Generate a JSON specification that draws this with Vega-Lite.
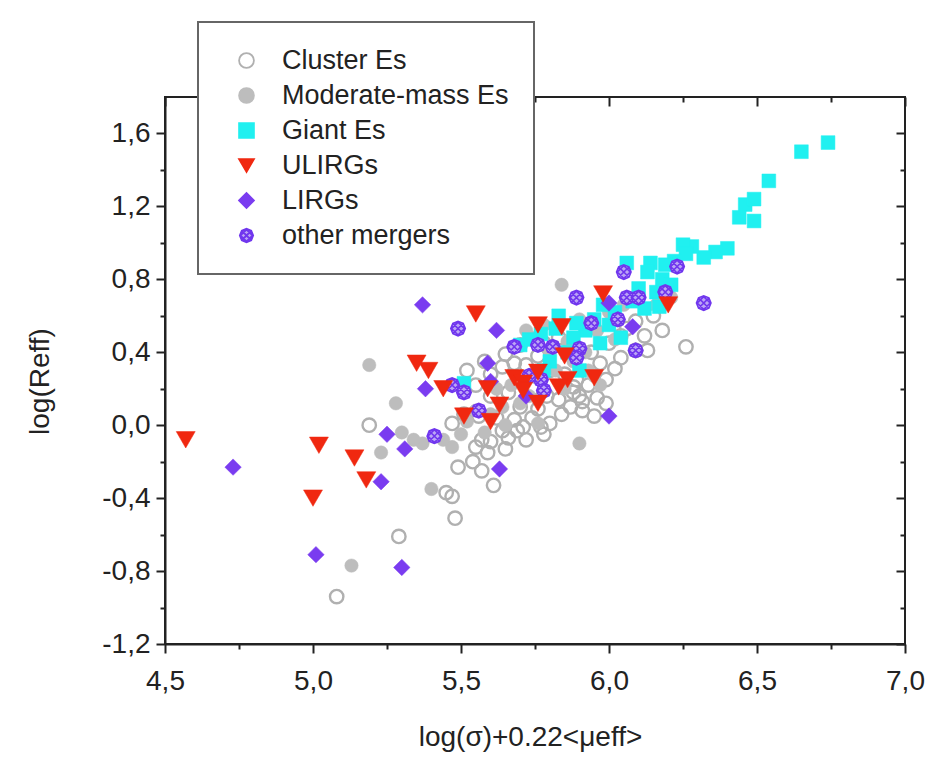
{
"$schema": "https://vega.github.io/schema/vega-lite/v6.json",
"width": 740, "height": 547,
"autosize": {"type": "none"},
"padding": {"left": 165, "top": 97, "right": 33, "bottom": 121},
"background": "white",
"config": {
  "view": {"stroke": "#222", "strokeWidth": 2},
  "font": "Liberation Sans",
  "axis": {"labelFont": "Liberation Sans", "titleFont": "Liberation Sans", "labelColor": "#222", "titleColor": "#222", "tickColor": "#222", "domainColor": "#222", "domainWidth": 2, "tickWidth": 2, "grid": false, "labelFontSize": 28, "titleFontSize": 28, "titleFontWeight": "normal", "labelFlush": false, "labelOverlap": false},
  "legend": {"padding": 25, "strokeColor": "#666", "strokeWidth": 2, "fillColor": "white", "labelFont": "Liberation Sans", "labelFontSize": 27, "labelColor": "#222", "symbolSize": 220, "symbolStrokeWidth": 1.8, "rowPadding": 7, "labelOffset": 22, "symbolOffset": 10, "labelLimit": 400}
},
"data": {"values": [
{"x":5.08,"y":-0.94,"t":"Cluster Es"},{"x":5.29,"y":-0.61,"t":"Cluster Es"},{"x":5.48,"y":-0.51,"t":"Cluster Es"},{"x":5.45,"y":-0.37,"t":"Cluster Es"},{"x":5.47,"y":-0.39,"t":"Cluster Es"},{"x":5.61,"y":-0.33,"t":"Cluster Es"},{"x":5.49,"y":-0.23,"t":"Cluster Es"},{"x":5.54,"y":-0.20,"t":"Cluster Es"},{"x":5.57,"y":-0.25,"t":"Cluster Es"},{"x":5.19,"y":0.00,"t":"Cluster Es"},{"x":5.47,"y":0.01,"t":"Cluster Es"},{"x":6.26,"y":0.43,"t":"Cluster Es"},{"x":6.18,"y":0.52,"t":"Cluster Es"},
{"x":5.55,"y":-0.12,"t":"Cluster Es"},{"x":5.59,"y":-0.15,"t":"Cluster Es"},{"x":5.60,"y":-0.09,"t":"Cluster Es"},{"x":5.65,"y":-0.13,"t":"Cluster Es"},{"x":5.66,"y":-0.07,"t":"Cluster Es"},{"x":5.72,"y":-0.08,"t":"Cluster Es"},{"x":5.71,"y":-0.01,"t":"Cluster Es"},{"x":5.78,"y":-0.05,"t":"Cluster Es"},{"x":5.80,"y":0.01,"t":"Cluster Es"},{"x":5.64,"y":-0.03,"t":"Cluster Es"},{"x":5.57,"y":-0.08,"t":"Cluster Es"},{"x":5.69,"y":-0.03,"t":"Cluster Es"},{"x":5.77,"y":-0.01,"t":"Cluster Es"},
{"x":5.51,"y":0.06,"t":"Cluster Es"},{"x":5.56,"y":0.05,"t":"Cluster Es"},{"x":5.62,"y":0.04,"t":"Cluster Es"},{"x":5.68,"y":0.03,"t":"Cluster Es"},{"x":5.74,"y":0.04,"t":"Cluster Es"},{"x":5.76,"y":0.09,"t":"Cluster Es"},{"x":5.70,"y":0.10,"t":"Cluster Es"},{"x":5.84,"y":0.06,"t":"Cluster Es"},{"x":5.87,"y":0.10,"t":"Cluster Es"},{"x":5.91,"y":0.08,"t":"Cluster Es"},{"x":5.95,"y":0.05,"t":"Cluster Es"},{"x":5.91,"y":0.13,"t":"Cluster Es"},{"x":5.93,"y":0.22,"t":"Cluster Es"},{"x":5.88,"y":0.18,"t":"Cluster Es"},{"x":5.83,"y":0.14,"t":"Cluster Es"},{"x":5.79,"y":0.16,"t":"Cluster Es"},{"x":5.74,"y":0.20,"t":"Cluster Es"},{"x":5.66,"y":0.18,"t":"Cluster Es"},{"x":5.60,"y":0.16,"t":"Cluster Es"},{"x":5.55,"y":0.22,"t":"Cluster Es"},{"x":5.88,"y":0.21,"t":"Cluster Es"},{"x":5.90,"y":0.16,"t":"Cluster Es"},
{"x":5.64,"y":0.32,"t":"Cluster Es"},{"x":5.65,"y":0.39,"t":"Cluster Es"},{"x":5.68,"y":0.34,"t":"Cluster Es"},{"x":5.72,"y":0.33,"t":"Cluster Es"},{"x":5.76,"y":0.38,"t":"Cluster Es"},{"x":5.80,"y":0.30,"t":"Cluster Es"},{"x":5.85,"y":0.28,"t":"Cluster Es"},{"x":5.89,"y":0.25,"t":"Cluster Es"},{"x":5.99,"y":0.25,"t":"Cluster Es"},{"x":6.02,"y":0.31,"t":"Cluster Es"},{"x":6.04,"y":0.37,"t":"Cluster Es"},{"x":6.09,"y":0.41,"t":"Cluster Es"},{"x":6.13,"y":0.41,"t":"Cluster Es"},{"x":6.12,"y":0.49,"t":"Cluster Es"},{"x":6.04,"y":0.49,"t":"Cluster Es"},{"x":5.97,"y":0.34,"t":"Cluster Es"},{"x":5.94,"y":0.40,"t":"Cluster Es"},{"x":6.00,"y":0.45,"t":"Cluster Es"},{"x":6.06,"y":0.53,"t":"Cluster Es"},{"x":6.09,"y":0.57,"t":"Cluster Es"},{"x":6.15,"y":0.60,"t":"Cluster Es"},{"x":5.87,"y":0.42,"t":"Cluster Es"},{"x":5.83,"y":0.48,"t":"Cluster Es"},{"x":5.78,"y":0.45,"t":"Cluster Es"},{"x":5.60,"y":0.28,"t":"Cluster Es"},{"x":5.70,"y":0.44,"t":"Cluster Es"},{"x":5.58,"y":0.35,"t":"Cluster Es"},{"x":5.52,"y":0.30,"t":"Cluster Es"},{"x":5.96,"y":0.15,"t":"Cluster Es"},{"x":5.99,"y":0.12,"t":"Cluster Es"},
{"x":5.19,"y":0.33,"t":"Moderate-mass Es"},{"x":5.28,"y":0.12,"t":"Moderate-mass Es"},{"x":5.30,"y":-0.04,"t":"Moderate-mass Es"},{"x":5.23,"y":-0.15,"t":"Moderate-mass Es"},{"x":5.37,"y":-0.10,"t":"Moderate-mass Es"},{"x":5.40,"y":-0.35,"t":"Moderate-mass Es"},{"x":5.13,"y":-0.77,"t":"Moderate-mass Es"},{"x":5.47,"y":-0.12,"t":"Moderate-mass Es"},{"x":5.58,"y":-0.04,"t":"Moderate-mass Es"},{"x":5.90,"y":-0.10,"t":"Moderate-mass Es"},{"x":5.84,"y":0.77,"t":"Moderate-mass Es"},{"x":5.95,"y":0.27,"t":"Moderate-mass Es"},{"x":5.97,"y":0.22,"t":"Moderate-mass Es"},{"x":5.76,"y":0.01,"t":"Moderate-mass Es"},{"x":5.60,"y":0.06,"t":"Moderate-mass Es"},{"x":5.64,"y":0.10,"t":"Moderate-mass Es"},{"x":5.70,"y":0.12,"t":"Moderate-mass Es"},{"x":5.73,"y":0.16,"t":"Moderate-mass Es"},{"x":5.67,"y":0.22,"t":"Moderate-mass Es"},{"x":5.62,"y":0.20,"t":"Moderate-mass Es"},{"x":5.76,"y":0.26,"t":"Moderate-mass Es"},{"x":5.82,"y":0.30,"t":"Moderate-mass Es"},{"x":5.80,"y":0.40,"t":"Moderate-mass Es"},{"x":5.74,"y":0.48,"t":"Moderate-mass Es"},{"x":5.72,"y":0.52,"t":"Moderate-mass Es"},{"x":5.78,"y":0.55,"t":"Moderate-mass Es"},{"x":5.86,"y":0.46,"t":"Moderate-mass Es"},{"x":5.90,"y":0.58,"t":"Moderate-mass Es"},{"x":5.96,"y":0.52,"t":"Moderate-mass Es"},{"x":6.00,"y":0.62,"t":"Moderate-mass Es"},{"x":6.05,"y":0.66,"t":"Moderate-mass Es"},{"x":6.10,"y":0.72,"t":"Moderate-mass Es"},{"x":6.16,"y":0.66,"t":"Moderate-mass Es"},{"x":6.21,"y":0.70,"t":"Moderate-mass Es"},{"x":6.02,"y":0.47,"t":"Moderate-mass Es"},{"x":5.92,"y":0.40,"t":"Moderate-mass Es"},{"x":5.88,"y":0.35,"t":"Moderate-mass Es"},{"x":5.52,"y":0.02,"t":"Moderate-mass Es"},{"x":5.55,"y":0.08,"t":"Moderate-mass Es"},{"x":5.50,"y":-0.05,"t":"Moderate-mass Es"},{"x":5.65,"y":0.00,"t":"Moderate-mass Es"},{"x":5.34,"y":-0.08,"t":"Moderate-mass Es"},{"x":5.44,"y":-0.08,"t":"Moderate-mass Es"},{"x":5.85,"y":0.20,"t":"Moderate-mass Es"},{"x":5.93,"y":0.30,"t":"Moderate-mass Es"},
{"x":6.74,"y":1.55,"t":"Giant Es"},{"x":6.65,"y":1.50,"t":"Giant Es"},{"x":6.54,"y":1.34,"t":"Giant Es"},{"x":6.46,"y":1.21,"t":"Giant Es"},{"x":6.49,"y":1.24,"t":"Giant Es"},{"x":6.44,"y":1.14,"t":"Giant Es"},{"x":6.49,"y":1.12,"t":"Giant Es"},{"x":6.40,"y":0.97,"t":"Giant Es"},{"x":6.36,"y":0.95,"t":"Giant Es"},{"x":6.32,"y":0.92,"t":"Giant Es"},{"x":6.28,"y":0.98,"t":"Giant Es"},{"x":6.25,"y":0.99,"t":"Giant Es"},{"x":6.26,"y":0.94,"t":"Giant Es"},{"x":6.22,"y":0.90,"t":"Giant Es"},{"x":6.19,"y":0.88,"t":"Giant Es"},{"x":6.14,"y":0.89,"t":"Giant Es"},{"x":6.13,"y":0.84,"t":"Giant Es"},{"x":6.06,"y":0.89,"t":"Giant Es"},{"x":6.18,"y":0.80,"t":"Giant Es"},{"x":6.21,"y":0.77,"t":"Giant Es"},{"x":6.16,"y":0.73,"t":"Giant Es"},{"x":6.10,"y":0.75,"t":"Giant Es"},{"x":6.08,"y":0.68,"t":"Giant Es"},{"x":6.12,"y":0.64,"t":"Giant Es"},{"x":6.17,"y":0.65,"t":"Giant Es"},{"x":6.02,"y":0.62,"t":"Giant Es"},{"x":5.98,"y":0.66,"t":"Giant Es"},{"x":5.95,"y":0.58,"t":"Giant Es"},{"x":5.92,"y":0.52,"t":"Giant Es"},{"x":6.00,"y":0.55,"t":"Giant Es"},{"x":6.04,"y":0.48,"t":"Giant Es"},{"x":5.88,"y":0.48,"t":"Giant Es"},{"x":5.82,"y":0.53,"t":"Giant Es"},{"x":5.86,"y":0.40,"t":"Giant Es"},{"x":5.80,"y":0.35,"t":"Giant Es"},{"x":5.90,"y":0.30,"t":"Giant Es"},{"x":5.77,"y":0.50,"t":"Giant Es"},{"x":5.73,"y":0.47,"t":"Giant Es"},{"x":5.70,"y":0.44,"t":"Giant Es"},{"x":5.51,"y":0.23,"t":"Giant Es"},{"x":5.83,"y":0.60,"t":"Giant Es"},{"x":5.89,"y":0.56,"t":"Giant Es"},{"x":5.97,"y":0.45,"t":"Giant Es"},{"x":5.78,"y":0.30,"t":"Giant Es"},
{"x":5.37,"y":0.66,"t":"LIRGs"},{"x":5.62,"y":0.52,"t":"LIRGs"},{"x":5.59,"y":0.34,"t":"LIRGs"},{"x":5.38,"y":0.20,"t":"LIRGs"},{"x":5.60,"y":0.24,"t":"LIRGs"},{"x":5.25,"y":-0.05,"t":"LIRGs"},{"x":5.31,"y":-0.13,"t":"LIRGs"},{"x":4.73,"y":-0.23,"t":"LIRGs"},{"x":5.23,"y":-0.31,"t":"LIRGs"},{"x":5.63,"y":-0.24,"t":"LIRGs"},{"x":5.01,"y":-0.71,"t":"LIRGs"},{"x":5.30,"y":-0.78,"t":"LIRGs"},{"x":6.00,"y":0.67,"t":"LIRGs"},{"x":6.08,"y":0.54,"t":"LIRGs"},{"x":6.00,"y":0.05,"t":"LIRGs"},{"x":5.72,"y":0.16,"t":"LIRGs"},
{"x":5.49,"y":0.53,"t":"other mergers"},{"x":5.47,"y":0.22,"t":"other mergers"},{"x":5.51,"y":0.18,"t":"other mergers"},{"x":5.56,"y":0.08,"t":"other mergers"},{"x":5.41,"y":-0.06,"t":"other mergers"},{"x":6.05,"y":0.84,"t":"other mergers"},{"x":6.23,"y":0.87,"t":"other mergers"},{"x":5.89,"y":0.70,"t":"other mergers"},{"x":6.06,"y":0.70,"t":"other mergers"},{"x":6.10,"y":0.70,"t":"other mergers"},{"x":6.19,"y":0.73,"t":"other mergers"},{"x":6.32,"y":0.67,"t":"other mergers"},{"x":5.94,"y":0.56,"t":"other mergers"},{"x":6.03,"y":0.58,"t":"other mergers"},{"x":5.68,"y":0.43,"t":"other mergers"},{"x":5.76,"y":0.44,"t":"other mergers"},{"x":5.81,"y":0.43,"t":"other mergers"},{"x":5.90,"y":0.42,"t":"other mergers"},{"x":5.89,"y":0.37,"t":"other mergers"},{"x":6.09,"y":0.41,"t":"other mergers"},{"x":5.77,"y":0.25,"t":"other mergers"},{"x":5.78,"y":0.19,"t":"other mergers"},{"x":5.73,"y":0.27,"t":"other mergers"},
{"x":4.57,"y":-0.08,"t":"ULIRGs"},{"x":5.02,"y":-0.11,"t":"ULIRGs"},{"x":5.14,"y":-0.18,"t":"ULIRGs"},{"x":5.18,"y":-0.30,"t":"ULIRGs"},{"x":5.00,"y":-0.40,"t":"ULIRGs"},{"x":5.35,"y":0.34,"t":"ULIRGs"},{"x":5.39,"y":0.30,"t":"ULIRGs"},{"x":5.44,"y":0.20,"t":"ULIRGs"},{"x":5.55,"y":0.61,"t":"ULIRGs"},{"x":5.59,"y":0.20,"t":"ULIRGs"},{"x":5.51,"y":0.05,"t":"ULIRGs"},{"x":5.60,"y":0.02,"t":"ULIRGs"},{"x":5.63,"y":0.11,"t":"ULIRGs"},{"x":5.76,"y":0.55,"t":"ULIRGs"},{"x":5.84,"y":0.54,"t":"ULIRGs"},{"x":5.98,"y":0.72,"t":"ULIRGs"},{"x":6.20,"y":0.66,"t":"ULIRGs"},{"x":5.85,"y":0.38,"t":"ULIRGs"},{"x":5.68,"y":0.26,"t":"ULIRGs"},{"x":5.71,"y":0.23,"t":"ULIRGs"},{"x":5.76,"y":0.29,"t":"ULIRGs"},{"x":5.86,"y":0.25,"t":"ULIRGs"},{"x":5.83,"y":0.21,"t":"ULIRGs"},{"x":5.95,"y":0.26,"t":"ULIRGs"},{"x":5.76,"y":0.12,"t":"ULIRGs"},{"x":5.71,"y":0.19,"t":"ULIRGs"}
]},
"layer": [
  {
    "mark": {"type": "point", "opacity": 1, "filled": true},
    "encoding": {
      "x": {"field": "x", "type": "quantitative", "scale": {"domain": [4.5, 7], "nice": false, "zero": false},
        "axis": {"orient": "bottom", "values": [4.5, 4.75, 5, 5.25, 5.5, 5.75, 6, 6.25, 6.5, 6.75, 7], "tickSize": 9, "labelPadding": 14,
          "labelExpr": "abs(datum.value*2-round(datum.value*2))>0.01 ? '' : replace(format(datum.value,'.1f'),'.',',')",
          "tickDash": {"condition": {"test": "abs(datum.value*2-round(datum.value*2))>0.01", "value": [5, 20]}, "value": []},
          "title": "log(σ)+0.22<μeff>", "titleX": 365, "titleY": 93, "titleBaseline": "middle"}},
      "y": {"field": "y", "type": "quantitative", "scale": {"domain": [-1.2, 1.8], "nice": false, "zero": false},
        "axis": {"orient": "left", "values": [-1.2, -1.0, -0.8, -0.6, -0.4, -0.2, 0, 0.2, 0.4, 0.6, 0.8, 1.0, 1.2, 1.4, 1.6], "tickSize": 9, "labelPadding": 6,
          "labelExpr": "abs(datum.value/0.4-round(datum.value/0.4))>0.01 ? '' : replace(replace(format(datum.value,'.1f'),'.',','),'\u2212','-')",
          "tickDash": {"condition": {"test": "abs(datum.value/0.4-round(datum.value/0.4))>0.01", "value": [5, 20]}, "value": []},
          "title": "log(Reff)", "titleX": -125, "titleY": 284, "titleBaseline": "middle"}},
      "fill": {"field": "t", "type": "nominal", "title": null,
        "scale": {"domain": ["Cluster Es", "Moderate-mass Es", "Giant Es", "ULIRGs", "LIRGs", "other mergers"], "range": ["transparent", "#bdbdbd", "#20f0f0", "#f02810", "#7a3cf0", "#bca6f5"]},
        "legend": {"orient": "none", "legendX": 33, "legendY": -75}},
      "stroke": {"field": "t", "type": "nominal", "title": null,
        "scale": {"domain": ["Cluster Es", "Moderate-mass Es", "Giant Es", "ULIRGs", "LIRGs", "other mergers"], "range": ["#b0b0b0", "#bdbdbd", "#20f0f0", "#f02810", "#7a3cf0", "#7036ee"]},
        "legend": {"orient": "none", "legendX": 33, "legendY": -75}},
      "shape": {"field": "t", "type": "nominal", "title": null,
        "scale": {"domain": ["Cluster Es", "Moderate-mass Es", "Giant Es", "ULIRGs", "LIRGs", "other mergers"], "range": ["circle", "circle", "square", "triangle-down", "diamond", "M0.9,0L0.64,0.64L0,0.9L-0.64,0.64L-0.9,0L-0.64,-0.64L0,-0.9L0.64,-0.64Z M-0.64,0.64L0.64,-0.64 M0.895,-0.095L-0.095,0.895 M0.095,-0.895L-0.895,0.095 M-0.64,-0.64L0.64,0.64 M0.895,0.095L-0.095,-0.895 M0.095,0.895L-0.895,-0.095"]},
        "legend": {"orient": "none", "legendX": 33, "legendY": -75}},
      "size": {"condition": [{"test": "datum.t==='ULIRGs'", "value": 360}, {"test": "datum.t==='LIRGs'", "value": 270}, {"test": "datum.t==='other mergers'", "value": 260}, {"test": "datum.t==='Giant Es'", "value": 190}], "value": 180},
      "strokeWidth": {"condition": [{"test": "datum.t==='Cluster Es'", "value": 2.4}, {"test": "datum.t==='other mergers'", "value": 1.6}], "value": 0.5}
    }
  },
  {
    "mark": {"type": "point", "opacity": 0},
    "encoding": {
      "x": {"field": "x", "type": "quantitative",
        "axis": {"orient": "top", "values": [4.5, 4.75, 5, 5.25, 5.5, 5.75, 6, 6.25, 6.5, 6.75, 7], "tickSize": -9, "labels": false, "domain": false, "title": null,
          "tickDash": {"condition": {"test": "abs(datum.value*2-round(datum.value*2))>0.01", "value": [5, 20]}, "value": []}}},
      "y": {"field": "y", "type": "quantitative",
        "axis": {"orient": "right", "values": [-1.2, -1.0, -0.8, -0.6, -0.4, -0.2, 0, 0.2, 0.4, 0.6, 0.8, 1.0, 1.2, 1.4, 1.6], "tickSize": -9, "labels": false, "domain": false, "title": null,
          "tickDash": {"condition": {"test": "abs(datum.value/0.4-round(datum.value/0.4))>0.01", "value": [5, 20]}, "value": []}}}
    }
  }
],
"resolve": {"axis": {"x": "independent", "y": "independent"}}
}
